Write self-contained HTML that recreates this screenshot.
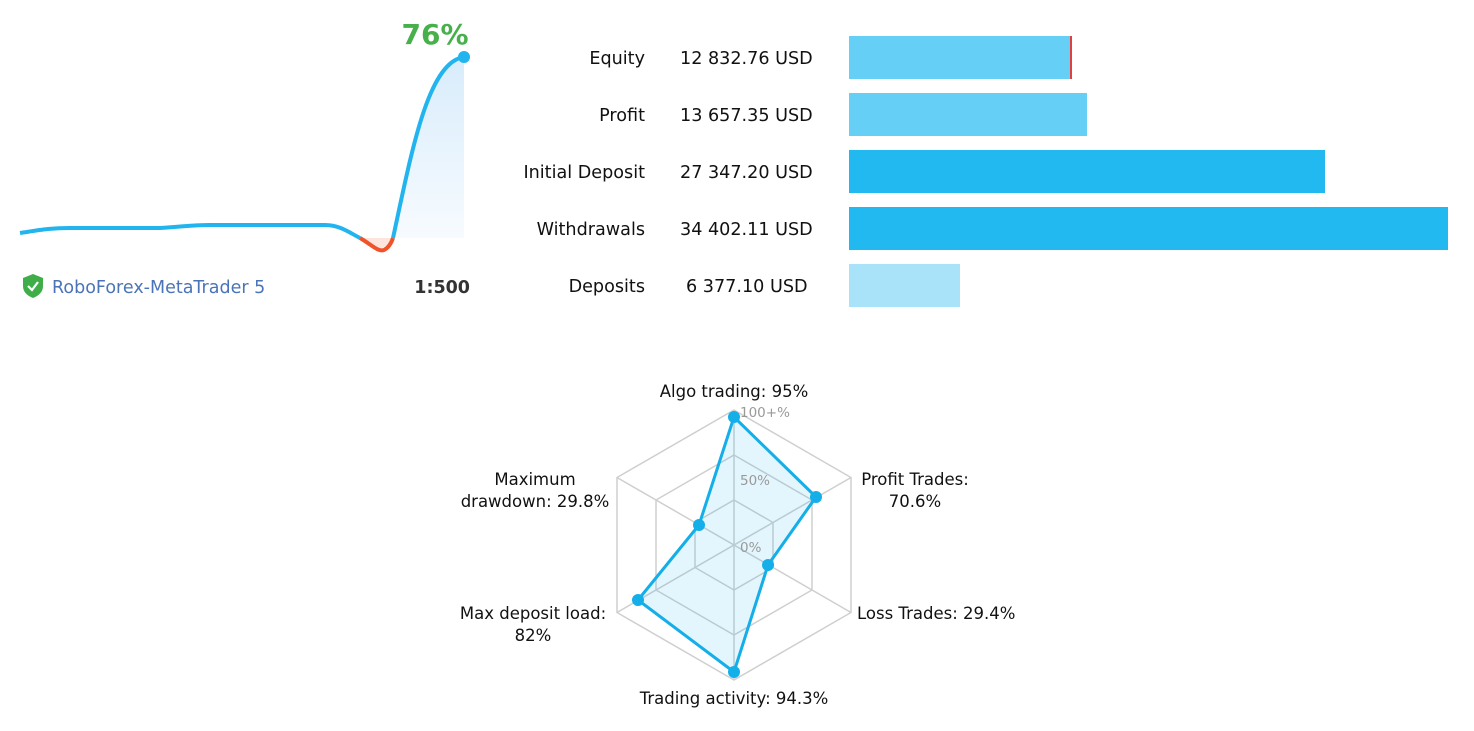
<!DOCTYPE html>
<html><head><meta charset="utf-8"><style>
body{margin:0;width:1474px;height:731px;background:#fff;overflow:hidden;font-family:"DejaVu Sans","Liberation Sans",sans-serif;}
svg{position:absolute;left:0;top:0}
</style></head><body>
<svg width="1474" height="731" xmlns="http://www.w3.org/2000/svg" font-family="DejaVu Sans, Liberation Sans, sans-serif">
<defs><linearGradient id="g" x1="0" y1="0" x2="0" y2="1"><stop offset="0" stop-color="#d8ecfb"/><stop offset="1" stop-color="#f7fbff"/></linearGradient></defs>
<path d="M393,238 C412,150 428,62 464,57 L464,238 Z" fill="url(#g)"/>
<path d="M360,238 Q382,258 393,238 Z" fill="#fde4dc"/>
<path d="M20,233 C40,230 50,228 70,228 L160,228 C180,227 190,225 210,225 L325,225 C340,225 350,233 360,238" fill="none" stroke="#22b4ef" stroke-width="4"/>
<path d="M360,238 C372,245 378,252 384,250 C388,248 391,244 393,238" fill="none" stroke="#f0522a" stroke-width="4"/>
<path d="M393,238 C412,150 428,62 464,57" fill="none" stroke="#22b4ef" stroke-width="4"/>
<circle cx="464" cy="57" r="6" fill="#22b4ef"/>
<text x="435" y="44" text-anchor="middle" font-size="28" font-weight="bold" fill="#47b04b">76%</text>
<path d="M23,278 L33,274 L43,278 L43,286 Q43,294 33,298 Q23,294 23,286 Z" fill="#3fae49"/>
<path d="M28,286 L32,290 L38,282" fill="none" stroke="#fff" stroke-width="2.2"/>
<text x="52" y="293" font-size="17.5" fill="#4a74b7">RoboForex-MetaTrader 5</text>
<text x="470" y="293" text-anchor="end" font-size="17.5" font-weight="bold" fill="#333">1:500</text>
<g font-size="17.6" fill="#111">
<text x="645" y="64" text-anchor="end">Equity</text><text x="680" y="64">12 832.76 USD</text>
<text x="645" y="121" text-anchor="end">Profit</text><text x="680" y="121">13 657.35 USD</text>
<text x="645" y="178" text-anchor="end">Initial Deposit</text><text x="680" y="178">27 347.20 USD</text>
<text x="645" y="235" text-anchor="end">Withdrawals</text><text x="680" y="235">34 402.11 USD</text>
<text x="645" y="292" text-anchor="end">Deposits</text><text x="686" y="292">6 377.10 USD</text>
</g>
<rect x="849" y="36" width="222" height="43" fill="#66cff5"/><rect x="1070" y="36" width="2" height="43" fill="#e04040"/>
<rect x="849" y="93" width="238" height="43" fill="#66cff5"/>
<rect x="849" y="150" width="476" height="43" fill="#22b9f0"/>
<rect x="849" y="207" width="599" height="43" fill="#22b9f0"/>
<rect x="849" y="264" width="111" height="43" fill="#a8e3fa"/>
<g fill="none" stroke="#cfcfcf" stroke-width="1.5">
<polygon points="734,410 851,477.5 851,612.5 734,680 617,612.5 617,477.5"/>
<polygon points="734,455 812,500 812,590 734,635 656,590 656,500"/>
<polygon points="734,500 773,522.5 773,567.5 734,590 695,567.5 695,522.5"/>
<path d="M734,410 V680 M617,477.5 L851,612.5 M617,612.5 L851,477.5"/>
</g>
<polygon points="734,417 816,497 768,565 734,672 638,600 699,525" fill="rgba(34,180,239,0.12)" stroke="#14aee8" stroke-width="3" stroke-linejoin="round"/>
<g fill="#14aee8"><circle cx="734" cy="417" r="6"/><circle cx="816" cy="497" r="6"/><circle cx="768" cy="565" r="6"/><circle cx="734" cy="672" r="6"/><circle cx="638" cy="600" r="6"/><circle cx="699" cy="525" r="6"/></g>
<g font-size="13.5" fill="#999"><text x="740" y="417">100+%</text><text x="740" y="485">50%</text><text x="740" y="552">0%</text></g>
<g font-size="16.5" fill="#111">
<text x="734" y="397" text-anchor="middle">Algo trading: 95%</text>
<text x="915" y="485" text-anchor="middle">Profit Trades:</text><text x="915" y="507" text-anchor="middle">70.6%</text>
<text x="857" y="619">Loss Trades: 29.4%</text>
<text x="734" y="704" text-anchor="middle">Trading activity: 94.3%</text>
<text x="533" y="619" text-anchor="middle">Max deposit load:</text><text x="533" y="641" text-anchor="middle">82%</text>
<text x="535" y="485" text-anchor="middle">Maximum</text><text x="535" y="507" text-anchor="middle">drawdown: 29.8%</text>
</g>
</svg>
</body></html>
